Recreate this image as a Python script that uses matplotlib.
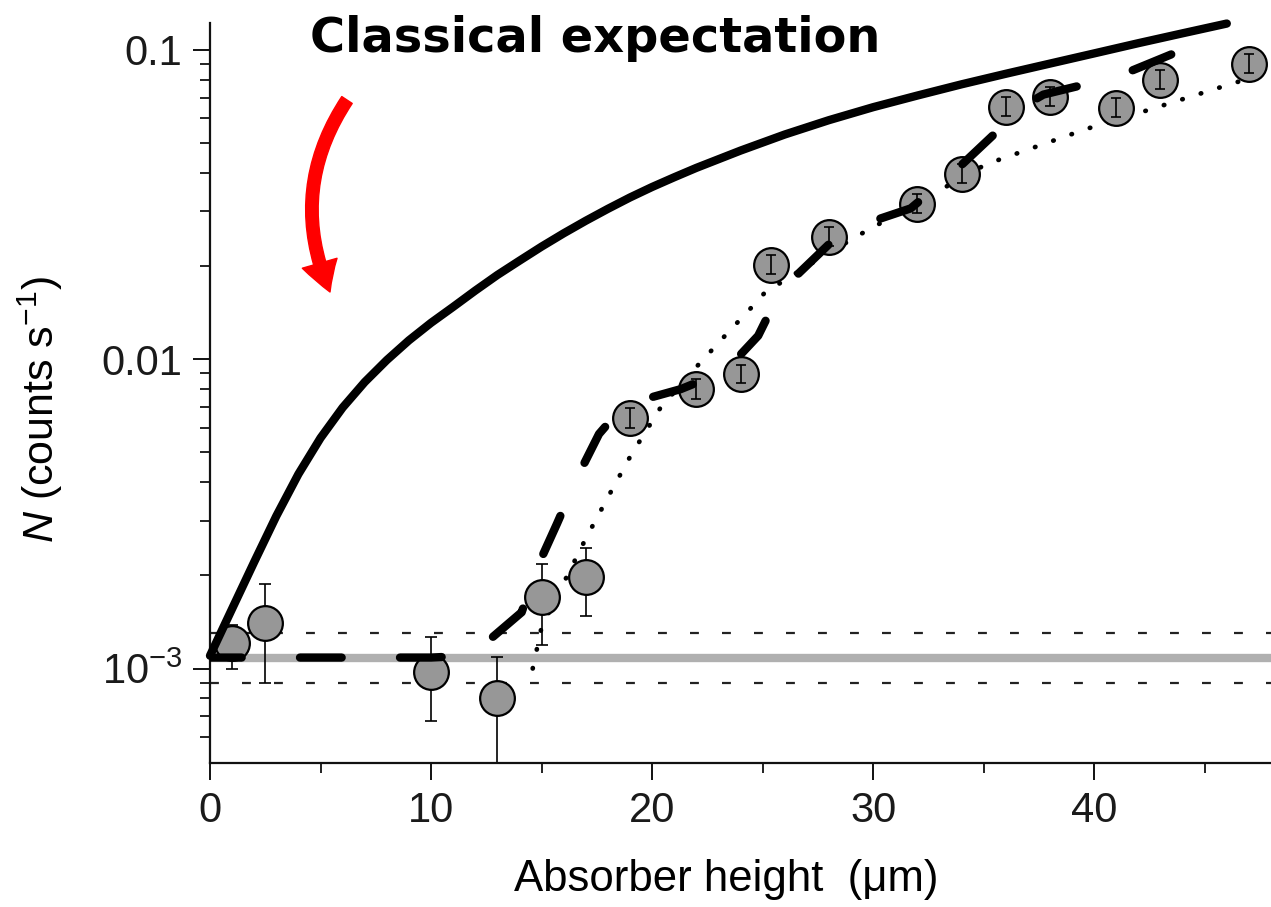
import matplotlib
matplotlib.use("Agg")
import matplotlib.pyplot as plt
from matplotlib.ticker import FixedLocator, NullFormatter

# --- data ------------------------------------------------------------------
# measured counts
x_pts = [1, 2.5, 10, 13, 15, 17, 19, 22, 24, 25.4, 28, 32, 34, 36, 38, 41, 43, 47]
y_pts = [1.21e-3, 1.40e-3, 0.975e-3, 0.80e-3, 1.70e-3, 1.98e-3, 6.45e-3, 8.0e-3,
         8.95e-3, 0.0202, 0.0249, 0.0318, 0.0398, 0.0655, 0.0705, 0.065, 0.080, 0.090]
err_lo = [0.21e-3, 0.50e-3, 0.30e-3, 0.45e-3, 0.51e-3, 0.50e-3, 0.45e-3, 0.55e-3,
          0.6e-3, 0.0014, 0.0017, 0.0021, 0.0027, 0.0045, 0.0048, 0.0045, 0.0055, 0.0062]
err_hi = [0.17e-3, 0.48e-3, 0.29e-3, 0.29e-3, 0.48e-3, 0.47e-3, 0.48e-3, 0.6e-3,
          0.65e-3, 0.0015, 0.0019, 0.0024, 0.003, 0.0048, 0.0052, 0.0048, 0.006, 0.0066]

# classical expectation (solid)
x_classic = [0, 1, 2, 3, 4, 5, 6, 7, 8, 9, 10, 11, 12, 13, 14, 15, 16, 17, 18,
             19, 20, 21, 22, 24, 26, 28, 30, 32, 34, 36, 38, 40, 42, 44, 46]
y_classic = [1.10e-3, 1.56e-3, 2.21e-3, 3.11e-3, 4.25e-3, 5.56e-3, 6.97e-3,
             8.43e-3, 9.93e-3, 1.15e-2, 1.31e-2, 1.475e-2, 1.665e-2, 1.87e-2,
             2.08e-2, 2.31e-2, 2.55e-2, 2.80e-2, 3.06e-2, 3.33e-2, 3.60e-2,
             3.87e-2, 4.15e-2, 4.72e-2, 5.32e-2, 5.92e-2, 6.52e-2, 7.11e-2,
             7.73e-2, 8.36e-2, 9.02e-2, 9.73e-2, 0.105, 0.113, 0.1215]

# quantum prediction (thick dashed)
x_quant = [0, 10, 11.8, 14.1, 14.8, 15.7, 16.6, 17.6, 18.5, 19.3, 21.3, 23.3, 24.8,
           25.8, 28.0, 29.7, 31.7, 33.7, 35.7, 36.7, 37.7, 39.7, 41.6, 43.9, 45.9]
y_quant = [1.085e-3, 1.085e-3, 1.1e-3, 1.52e-3, 2.12e-3, 2.94e-3, 4.13e-3, 5.73e-3,
           6.8e-3, 7.3e-3, 8.0e-3, 9.14e-3, 0.0119, 0.0166, 0.0235, 0.0275, 0.0307,
           0.0405, 0.0552, 0.065, 0.0716, 0.0776, 0.085, 0.0993, 0.108]

# fit (dotted)
x_fit = [14.6, 15.0, 17.0, 18.2, 19.05, 20.4, 22.1, 23.3, 24.5, 25.1, 27.5, 29.5,
         32.0, 35.1, 39.7, 42.1, 45.5, 48]
y_fit = [1.0e-3, 1.36e-3, 2.63e-3, 3.8e-3, 4.9e-3, 7.0e-3, 9.6e-3, 0.0119, 0.0147,
         0.0164, 0.021, 0.0255, 0.032, 0.0426, 0.0556, 0.0627, 0.0748, 0.085]

# background level and its band
bg_level = 1.085e-3
bg_band = [1.30e-3, 0.895e-3]
x_span = [0, 48]

INK = "#1a1a1a"
plt.rcParams.update({
    "font.family": ["Liberation Sans", "DejaVu Sans"],
    "mathtext.fontset": "custom",
    "mathtext.rm": "Liberation Sans",
    "mathtext.it": "Liberation Sans:italic",
    "text.color": INK,
})

fig = plt.figure(figsize=(12.71, 9.07), dpi=100)
ax = fig.add_axes([210 / 1271, 1 - 763 / 907, 1 - 210 / 1271, (763 - 23) / 907])
ax.set_yscale("log")

# background band
ax.plot(x_span, [bg_level, bg_level], color="#b0b0b0", lw=6, solid_capstyle="round",
        zorder=1)
for yb in bg_band:
    ax.plot(x_span, [yb, yb], color="#222222", lw=1.6, linestyle=(0, (4, 10.4)),
            zorder=1)

# fit (dotted)
ax.plot(x_fit, y_fit, color="black", lw=3.4, linestyle=(0, (0.1, 4.0)),
        dash_capstyle="round", zorder=2)

# error bars: behind markers for the low points, on top for the high ones
lo = [i for i, x in enumerate(x_pts) if x < 18]
hi = [i for i, x in enumerate(x_pts) if x >= 18]
for idx, z, cap in ((lo, 2.5, 4.5), (hi, 3.5, 3.5)):
    ax.errorbar([x_pts[i] for i in idx], [y_pts[i] for i in idx],
                yerr=[[err_lo[i] for i in idx], [err_hi[i] for i in idx]],
                fmt="none", ecolor="black", elinewidth=1.2, capsize=cap,
                capthick=1.2, zorder=z)
ax.plot(x_pts, y_pts, "o", ms=25, mfc="#979797", mec="black", mew=1.6,
        linestyle="none", zorder=3)

# quantum (dashed) and classical (solid)
ax.plot(x_quant, y_quant, color="black", lw=6, linestyle=(1.2, (5.0, 7.0)),
        dash_capstyle="round", zorder=4)
ax.plot(x_classic, y_classic, color="black", lw=6, solid_capstyle="round",
        solid_joinstyle="round", zorder=4, clip_on=False)

# axes styling
ax.set_xlim(0, 48)
ax.set_ylim(4.95e-4, 0.122)
for side in ("top", "right"):
    ax.spines[side].set_visible(False)
for side in ("left", "bottom"):
    ax.spines[side].set_linewidth(1.6)
    ax.spines[side].set_color("#111111")

ax.set_xticks([0, 10, 20, 30, 40])
ax.xaxis.set_minor_locator(FixedLocator([5, 15, 25, 35, 45]))
ax.set_yticks([1e-3, 1e-2, 1e-1])
ax.set_yticklabels([r"$10^{-3}$", "0.01", "0.1"])
ax.yaxis.set_minor_locator(FixedLocator(
    [6e-4, 7e-4, 8e-4, 9e-4] + [k * 1e-3 for k in range(2, 10)]
    + [k * 1e-2 for k in range(2, 10)]))
ax.yaxis.set_minor_formatter(NullFormatter())
ax.tick_params(which="major", direction="out", length=12, width=1.4,
               labelsize=30, colors="#111111", labelcolor=INK, pad=8)
ax.tick_params(which="minor", direction="out", length=7, width=1.3,
               colors="#111111")

ax.set_xlabel("Absorber height  (\u03bcm)", fontsize=31.5, va="center")
ax.xaxis.set_label_coords(0.487, -0.158)
ax.set_ylabel(r"$N$ (counts s$^{-1}$)", fontsize=31, va="center")
ax.yaxis.set_label_coords(-0.160, 0.477)

# annotation
fig.text(310 / 1271, 1 - 52 / 907, "Classical expectation", fontsize=34.5,
         fontweight="bold", family="DejaVu Sans", va="baseline", ha="left",
         color="black")
ax.annotate("", xy=(330, 907 - 292), xycoords="figure pixels",
            xytext=(347, 907 - 100), textcoords="figure pixels",
            arrowprops=dict(arrowstyle="simple,head_length=1.1,head_width=1.3,"
                                       "tail_width=0.45",
                            connectionstyle="arc3,rad=0.27",
                            color="#ff0000", mutation_scale=20, shrinkA=0,
                            shrinkB=0))

fig.savefig("out.png", dpi=100)
